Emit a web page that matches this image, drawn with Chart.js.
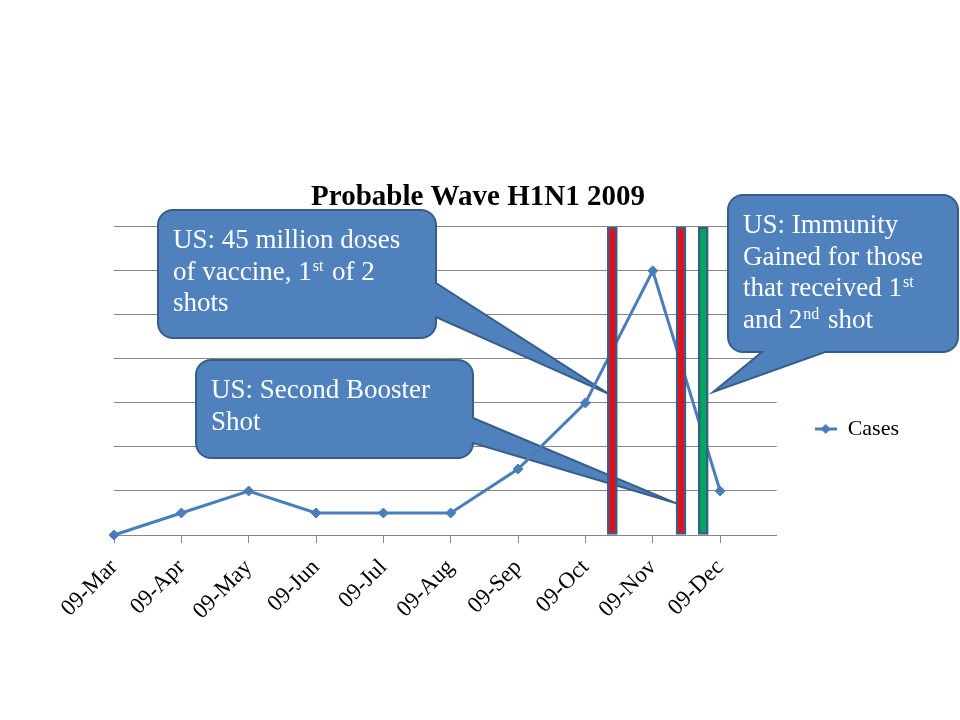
<!DOCTYPE html>
<html>
<head>
<meta charset="utf-8">
<script src="https://cdn.jsdelivr.net/npm/chart.js@4.4.0/dist/chart.umd.min.js"></script>
<style>
  html, body { margin: 0; padding: 0; background: #fff; }
  #wrap { width: 960px; height: 720px; }
</style>
</head>
<body>
<div id="wrap"><canvas id="chart"></canvas></div>
<script>
// monthly probable cases (relative units)
const months = ["09-Mar", "09-Apr", "09-May", "09-Jun", "09-Jul", "09-Aug", "09-Sep", "09-Oct", "09-Nov", "09-Dec"];
const cases = [0, 0.5, 1, 0.5, 0.5, 0.5, 1.5, 3, 6, 1];

// vaccine milestones, position in month index from 09-Mar
const milestoneAt = [7.4, 8.42, 8.75];
const milestoneTop = [7, 7, 7];
const milestoneColors = ["#E3101A", "#E3101A", "#00A65A"];

// callout texts, "^xx" marks a superscript
const calloutTexts = [
  ["US: 45 million doses", "of vaccine, 1^st of 2", "shots"],
  ["US: Second Booster", "Shot"],
  ["US: Immunity", "Gained for those", "that received 1^st", "and 2^nd shot"]
];
// where each pointer ends, in data units (month index, cases)
const calloutTipX = [7.35, 8.35, 8.9];
const calloutTipY = [3.2, 0.72, 3.25];

const serif = '"Liberation Serif", "Times New Roman", serif';
const lineBlue = "#4A7EBB";

Chart.defaults.font.family = serif;
Chart.defaults.color = "#000";

// legend marker: short line with a diamond
const legendMark = document.createElement("canvas");
legendMark.width = 22;
legendMark.height = 12;
(() => {
  const c = legendMark.getContext("2d");
  c.strokeStyle = lineBlue;
  c.lineWidth = 3;
  c.beginPath(); c.moveTo(0, 6); c.lineTo(22, 6); c.stroke();
  c.fillStyle = lineBlue;
  c.beginPath(); c.moveTo(11, 1); c.lineTo(16, 6); c.lineTo(11, 11); c.lineTo(6, 6); c.closePath(); c.fill();
})();

const boxes = [
  { x: 158, y: 210, w: 278, h: 128, side: "right", from: 283, to: 317 },
  { x: 196, y: 360, w: 277, h: 98, side: "right", from: 418, to: 443 },
  { x: 728, y: 195, w: 230, h: 157, side: "bottom", from: 762, to: 825 }
];

function calloutPath(ctx, b, tx, ty) {
  const r = 15, L = b.x, T = b.y, R = b.x + b.w, B = b.y + b.h;
  ctx.beginPath();
  ctx.moveTo(L + r, T);
  ctx.lineTo(R - r, T);
  ctx.arcTo(R, T, R, T + r, r);
  if (b.side === "right") {
    ctx.lineTo(R, b.from);
    ctx.lineTo(tx, ty);
    ctx.lineTo(R, b.to);
  }
  ctx.lineTo(R, B - r);
  ctx.arcTo(R, B, R - r, B, r);
  if (b.side === "bottom") {
    ctx.lineTo(b.to, B);
    ctx.lineTo(tx, ty);
    ctx.lineTo(b.from, B);
  }
  ctx.lineTo(L + r, B);
  ctx.arcTo(L, B, L, B - r, r);
  ctx.lineTo(L, T + r);
  ctx.arcTo(L, T, L + r, T, r);
  ctx.closePath();
}

function drawRuns(ctx, line, x, y, size) {
  line.split(/(\^\w+)/).forEach(part => {
    if (!part) return;
    if (part[0] === "^") {
      const s = part.slice(1);
      ctx.font = `${Math.round(size * 0.6)}px ${serif}`;
      ctx.fillText(s, x + 1, y - size * 0.33);
      x += ctx.measureText(s).width + 3;
    } else {
      ctx.font = `${size}px ${serif}`;
      ctx.fillText(part, x, y);
      x += ctx.measureText(part).width;
    }
  });
}

const calloutPlugin = {
  id: "callouts",
  beforeDatasetsDraw(chart) {
    const { ctx, scales } = chart;
    ctx.save();
    boxes.forEach((b, i) => {
      const tx = scales.x.getPixelForValue(calloutTipX[i]);
      const ty = scales.y.getPixelForValue(calloutTipY[i]);
      calloutPath(ctx, b, tx, ty);
      ctx.fillStyle = "#4F81BD";
      ctx.fill();
      ctx.lineWidth = 2;
      ctx.strokeStyle = "#385D8A";
      ctx.stroke();
      ctx.fillStyle = "#FFFFFF";
      ctx.textBaseline = "alphabetic";
      ctx.textAlign = "left";
      calloutTexts[i].forEach((line, j) => {
        drawRuns(ctx, line, b.x + 15, b.y + 38 + j * 31.5, 27);
      });
    });
    ctx.restore();
  }
};

new Chart(document.getElementById("chart"), {
  type: "line",
  data: {
    datasets: [
      {
        type: "bar",
        label: "milestones",
        data: milestoneAt.map((x, i) => ({ x: x, y: milestoneTop[i] })),
        backgroundColor: milestoneColors,
        borderColor: "#385D8A",
        borderWidth: 2.5,
        borderSkipped: false,
        barThickness: 10,
        order: 0
      },
      {
        label: "Cases",
        data: cases.map((v, i) => ({ x: i, y: v })),
        borderColor: lineBlue,
        backgroundColor: lineBlue,
        borderWidth: 3,
        pointStyle: "rectRot",
        pointRadius: 5,
        pointBorderWidth: 1,
        tension: 0,
        clip: false,
        order: 1
      }
    ]
  },
  options: {
    responsive: true,
    maintainAspectRatio: false,
    animation: false,
    layout: { padding: { left: 47, right: 51, top: 0, bottom: 0 } },
    plugins: {
      title: {
        display: true,
        text: "Probable Wave H1N1 2009",
        font: { size: 29, weight: "bold" },
        padding: { top: 180, bottom: 12 }
      },
      legend: {
        position: "right",
        title: { display: true, text: " ", font: { size: 10 }, padding: { top: 126, bottom: 0 } },
        labels: {
          usePointStyle: true,
          pointStyle: legendMark,
          pointStyleWidth: 22,
          padding: 38,
          font: { size: 22 },
          filter: item => item.text === "Cases"
        }
      },
      tooltip: { enabled: false }
    },
    scales: {
      x: {
        type: "linear",
        min: 0,
        max: 9.84,
        offset: false,
        afterBuildTicks: s => { s.ticks = s.ticks.filter(t => Number.isInteger(t.value)); },
        afterFit: s => { s.height = 185; },
        ticks: {
          stepSize: 1,
          minRotation: 45,
          maxRotation: 45,
          padding: 11,
          font: { size: 23 },
          callback: v => months[v]
        },
        grid: { offset: false, drawOnChartArea: false, drawTicks: true, tickLength: 8, color: "#868686" },
        border: { display: true, color: "#868686" }
      },
      y: {
        min: 0,
        max: 7,
        afterFit: s => { s.width = 67; },
        ticks: { display: false, stepSize: 1 },
        grid: { color: "#868686", drawTicks: false },
        border: { display: false }
      }
    }
  },
  plugins: [calloutPlugin]
});
</script>
</body>
</html>
